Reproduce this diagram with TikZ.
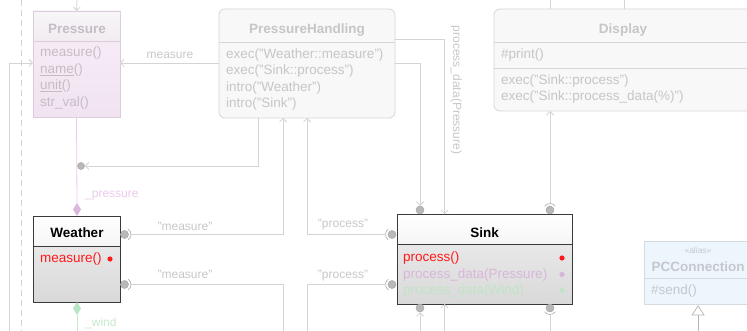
\documentclass[tikz,border=0pt]{standalone}
\usepackage{fontspec}
\setmainfont{Liberation Sans}
\usetikzlibrary{arrows.meta,calc}
\definecolor{linegray}{HTML}{D4D4D4}
\definecolor{lblgray}{HTML}{C8C8C8}
\definecolor{ballfill}{HTML}{B8B8B8}
\definecolor{balldraw}{HTML}{A8A8A8}
\definecolor{pborder}{HTML}{DCCCDC}
\definecolor{pheadtop}{HTML}{F8F6F8}
\definecolor{pheadbot}{HTML}{F1ECF1}
\definecolor{pbodytop}{HTML}{F7EEF7}
\definecolor{pbodybot}{HTML}{F1E3F1}
\definecolor{ptext}{HTML}{C6BCC6}
\definecolor{pink}{HTML}{ECCAEC}
\definecolor{pinkd}{HTML}{DDB6DD}
\definecolor{green}{HTML}{C6EACF}
\definecolor{greend}{HTML}{B8E6C4}
\definecolor{phborder}{HTML}{D6D6D6}
\definecolor{phfill}{HTML}{F8F8F8}
\definecolor{phtext}{HTML}{C6C6C6}
\definecolor{darkb}{HTML}{3A3A3A}
\definecolor{sred}{HTML}{FF1A1A}
\definecolor{spink}{HTML}{D9B6D9}
\definecolor{sgreen}{HTML}{BFE4C7}
\definecolor{pcfill}{HTML}{EEF6FD}
\definecolor{pcborder}{HTML}{D4DCE2}
\definecolor{pctext}{HTML}{C4C8CC}
\definecolor{trigray}{HTML}{B4B4B4}
\begin{document}
\begin{tikzpicture}[x=1pt,y=-1pt,
  conn/.style={draw=linegray, line width=0.8pt},
  tip/.style={-{Straight Barb[length=3.5pt,width=7pt]}},
  lbl/.style={font=\fontsize{12}{14}\selectfont, text=lblgray, inner sep=0, anchor=base},
  txt/.style={font=\fontsize{13.5}{16}\selectfont, inner sep=0, anchor=base west},
  ttl/.style={font=\fontsize{13.5}{16}\selectfont\bfseries, inner sep=0, anchor=base},
  ball/.style={circle, fill=ballfill, draw=balldraw, line width=0.5pt, minimum size=8pt, inner sep=0},
  socket/.style={draw=balldraw, line width=0.6pt},
  boxn/.style={inner sep=0, outer sep=0, anchor=north west, line width=0.8pt},
]
\useasboundingbox (0,0) rectangle (747,331);
\clip (0,0) rectangle (747,331);
\fill[white] (0,0) rectangle (747,331);

% ---------- boxes ----------
% Pressure
\node[boxn, draw=pborder, top color=pbodytop, bottom color=pbodybot, minimum width=87pt, minimum height=106pt] (pressure) at (33,11) {};
\fill[top color=pheadtop, bottom color=pheadbot] (33,11) rectangle (120,41);
\draw[pborder, line width=0.8pt] (pressure.north west) rectangle (pressure.south east);
\draw[pborder, line width=0.8pt] (33,41) -- (120,41);
\node[ttl, text=ptext] (pt) at (77,34) {Pressure};
\node[txt, text=ptext] (p1) at (40,57) {measure()};
\node[txt, text=ptext] (p2) at (40,73.5) {\underline{name}()};
\node[txt, text=ptext] (p3) at (40,90) {\underline{unit}()};
\node[txt, text=ptext] (p4) at (40,106.5) {str\_val()};

% PressureHandling
\node[boxn, draw=phborder, fill=phfill, rounded corners=6pt, minimum width=176pt, minimum height=109pt] (ph) at (219,9) {};
\draw[phborder, line width=0.8pt] (219,42) -- (395,42);
\node[ttl, text=phtext] (pht) at (307,34) {PressureHandling};
\node[txt, text=phtext] (ph1t) at (226,58.5) {exec("Weather::measure")};
\node[txt, text=phtext] (ph2t) at (226,75) {exec("Sink::process")};
\node[txt, text=phtext] (ph3t) at (226,91.5) {intro("Weather")};
\node[txt, text=phtext] (ph4t) at (226,107.5) {intro("Sink")};

% Display
\node[boxn, draw=phborder, fill=phfill, rounded corners=6pt, minimum width=258pt, minimum height=102pt] (disp) at (494,9) {};
\draw[phborder, line width=0.8pt] (494,42) -- (752,42);
\draw[phborder, line width=0.8pt] (494,68) -- (752,68);
\node[ttl, text=phtext] (dt) at (623,34) {Display};
\node[txt, text=phtext] (d1t) at (501,58.5) {\#print()};
\node[txt, text=phtext] (d2t) at (501,84.5) {exec("Sink::process")};
\node[txt, text=phtext] (d3t) at (501,101) {exec("Sink::process\_data(\%)")};

% Weather
\node[boxn, draw=darkb, top color=gray!12, bottom color=gray!30, minimum width=87pt, minimum height=86pt] (weather) at (33,216) {};
\fill[top color=white, bottom color=gray!8] (33,216) rectangle (120,246);
\draw[darkb, line width=0.8pt] (weather.north west) rectangle (weather.south east);
\draw[darkb, line width=0.8pt] (33,246) -- (120,246);
\node[ttl, text=black] (wt) at (77,238) {Weather};
\node[txt, text=sred] (w1) at (40,262.5) {measure()};
\fill[sred] (110,259) circle[radius=2.6];

% Sink
\node[boxn, draw=darkb, top color=gray!12, bottom color=gray!30, minimum width=175pt, minimum height=90pt] (sink) at (397,214) {};
\fill[top color=white, bottom color=gray!8] (397,214) rectangle (572,244);
\draw[darkb, line width=0.8pt] (sink.north west) rectangle (sink.south east);
\draw[darkb, line width=0.8pt] (397,244) -- (572,244);
\node[ttl, text=black] (st) at (484.5,238) {Sink};
\node[txt, text=sred] (s1) at (403,261.5) {process()};
\node[txt, text=spink] (s2) at (403,278) {process\_data(Pressure)};
\node[txt, text=sgreen] (s3) at (403,294) {process\_data(Wind)};
\fill[sred] (562,258) circle[radius=2.6];
\fill[spink] (562,274.5) circle[radius=2.6];
\fill[sgreen] (562,290.5) circle[radius=2.6];

% PCConnection
\node[boxn, draw=pcborder, fill=pcfill, minimum width=108pt, minimum height=63pt] (pc) at (644,241) {};
\draw[pcborder, line width=0.8pt] (644,278) -- (752,278);
\node[inner sep=0, anchor=base, font=\fontsize{8.5}{10}\selectfont, text=pctext] (pca) at (698,254) {«alias»};
\node[ttl, text=pctext] (pct) at (698,271) {PCConnection};
\node[txt, text=pctext] (pcs) at (651,294) {\#send()};

% ---------- connectors ----------
\coordinate (dl1) at (21,0);
\coordinate (dl2) at (21,331);
\draw[conn, dash pattern=on 6pt off 4pt] (dl1) -- (dl2);

\coordinate (ptop) at (77,0);
\draw[conn,tip] (ptop) -- (pressure.north);

\coordinate (lft) at (9,331);
\coordinate (pin) at (33,63);
\draw[conn,tip] (lft) |- (pin);

\coordinate (phw) at (219,63);
\coordinate (pe) at (120,63);
\draw[conn,tip] (phw) -- (pe);
\node[lbl] (lm) at (170,59) {measure};

\coordinate (dtop1) at (550,0);
\coordinate (dtop2) at (624,0);
\draw[conn] (dtop1) -- (dtop1 |- disp.north);
\draw[conn] (dtop2) -- (dtop2 |- disp.north);

% composition pressure
\coordinate (pdia) at (77,203);
\draw[draw=pink, line width=0.8pt] (pressure.south) -- (pdia);
\fill[pinkd] (77,203) -- (81,209.5) -- (77,216) -- (73,209.5) -- cycle;
\node[lbl, anchor=base west, text=pink] (lp) at (85,197.5) {\_pressure};

% composition wind
\coordinate (wdia) at (77,315);
\coordinate (wend) at (77,331);
\fill[greend] (77,302) -- (81,308.5) -- (77,315) -- (73,308.5) -- cycle;
\draw[draw=green, line width=0.8pt] (wdia) -- (wend);
\node[lbl, anchor=base west, text=green] (lw) at (85,326.5) {\_wind};

% ball at pressure line
\node[ball, minimum size=7pt] (bP) at (81,166) {};
\coordinate (phb1) at (258,118);
\draw[conn,tip] (phb1) |- (bP.east);

% Weather balls
\node[ball] (bW1) at (124.5,234.5) {};
\node[ball] (bW2) at (124.5,284.5) {};
\draw[socket] ($(bW1)+(-55:6.5)$) arc[start angle=-55, end angle=55, radius=6.5];
\draw[socket] ($(bW2)+(-55:6.5)$) arc[start angle=-55, end angle=55, radius=6.5];
\coordinate (phb2) at (283,118);
\coordinate (m2) at (283,331);
\draw[conn,tip] ($(bW1)+(6.5,0)$) -| (phb2);
\draw[conn] ($(bW2)+(6.5,0)$) -| (m2);
\node[lbl] (lm1) at (185,230) {"measure"};
\node[lbl] (lm2) at (185,278) {"measure"};

% Sink left balls
\node[ball] (bS1) at (392,234.5) {};
\node[ball] (bS2) at (392,284.5) {};
\draw[socket] ($(bS1)+(125:6.5)$) arc[start angle=125, end angle=235, radius=6.5];
\draw[socket] ($(bS2)+(125:6.5)$) arc[start angle=125, end angle=235, radius=6.5];
\coordinate (phb3) at (307,118);
\coordinate (m3) at (307,331);
\draw[conn,tip] ($(bS1)+(-6.5,0)$) -| (phb3);
\draw[conn] ($(bS2)+(-6.5,0)$) -| (m3);
\node[lbl] (lp1) at (343,228) {"process"};
\node[lbl] (lp2) at (343,278) {"process"};

% PH right to Sink top
\node[ball] (bS3) at (420,210) {};
\coordinate (phe1) at (395,63);
\draw[conn,tip] (phe1) -| (bS3.north);
\coordinate (phe2) at (395,39);
\coordinate (stp) at (444.5,214);
\draw[conn,tip] (phe2) -| (stp);
\node[lbl, rotate=-90] (lpd) at (453,90) {process\_data(Pressure)};

% Sink bottom
\node[ball] (bS4) at (420,308) {};
\coordinate (sb1) at (420,331);
\draw[conn,tip] (sb1) -- (bS4.south);
\coordinate (sb2) at (444.5,331);
\draw[conn,tip] (sb2) -- (sb2 |- sink.south);

% Sink to Display
\node[ball] (bS5) at (550,210) {};
\draw[socket] ($(bS5)+(-145:6.5)$) arc[start angle=-145, end angle=-35, radius=6.5];
\draw[conn,tip] ($(bS5)+(0,-6.5)$) -- (bS5 |- disp.south);
\node[ball] (bS6) at (550,308) {};
\draw[socket] ($(bS6)+(35:6.5)$) arc[start angle=35, end angle=145, radius=6.5];
\coordinate (sb3) at (550,331);
\draw[conn] ($(bS6)+(0,6.5)$) -- (sb3);

% inheritance
\coordinate (tri) at (698,315);
\coordinate (triend) at (698,331);
\draw[draw=trigray, fill=white, line width=0.7pt] (698,306) -- (704,315) -- (692,315) -- cycle;
\draw[draw=trigray, line width=0.7pt] (tri) -- (triend);
\end{tikzpicture}
\end{document}
